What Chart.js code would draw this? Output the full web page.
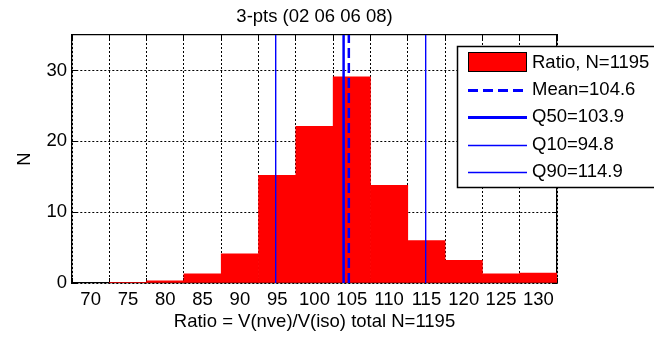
<!DOCTYPE html>
<html>
<head>
<meta charset="utf-8">
<script src="https://cdn.jsdelivr.net/npm/chart.js@4/dist/chart.umd.min.js"></script>
<style>
  html, body { margin: 0; padding: 0; background: #fff; }
  canvas { display: block; }
</style>
</head>
<body>
<canvas id="histCanv" width="654" height="338"></canvas>
<script>
/* data */
const binCenters = [75, 80, 85, 90, 95, 100, 105, 110, 115, 120, 125, 130]
const binCounts = [0.1, 0.3, 1.3, 4.1, 15.2, 22.1, 29.1, 13.8, 6.0, 3.2, 1.3, 1.4]
const statNames = ['Mean', 'Q50', 'Q10', 'Q90']
const statValues = [104.6, 103.9, 94.8, 114.9]
const xTicks = [70, 75, 80, 85, 90, 95, 100, 105, 110, 115, 120, 125, 130]
const yTicks = [0, 10, 20, 30]
const totalN = 1195
const titleText = '3-pts (02 06 06 08)'
const xLabel = 'Ratio = V(nve)/V(iso) total N=1195'
const yLabel = 'N'

const FONT = "'Liberation Sans', Arial, sans-serif"
const FSIZE = 18.5

/* the four vertical stat lines */
const statStyle = {
  Mean: { width: 2.5, dash: [10, 5] },
  Q50: { width: 2.5, dash: [] },
  Q10: { width: 1.4, dash: [] },
  Q90: { width: 1.4, dash: [] }
}
const statSets = statNames.map((name, i) => ({
  type: 'line',
  label: name + '=' + statValues[i].toFixed(1),
  data: [{ x: statValues[i], y: 0 }, { x: statValues[i], y: 35 }],
  borderColor: 'rgb(0, 0, 255)',
  borderWidth: statStyle[name].width,
  borderDash: statStyle[name].dash,
  pointRadius: 0,
  fill: false,
  order: 0
}))

/* matlab-like legend box sitting on the plot */
const boxLegend = {
  id: 'boxLegend',
  afterDraw(chart) {
    const ctx = chart.ctx
    ctx.save()
    ctx.fillStyle = '#fff'
    ctx.fillRect(457, 46, 220, 142)
    ctx.strokeStyle = '#000'
    ctx.lineWidth = 1.5
    ctx.strokeRect(457.5, 46.5, 220, 141)
    ctx.font = FSIZE + 'px ' + FONT
    ctx.textBaseline = 'middle'
    ctx.textAlign = 'left'
    chart.data.datasets.forEach((ds, i) => {
      const y = 63 + i * 27.2
      if (ds.type === 'line') {
        ctx.strokeStyle = ds.borderColor
        ctx.lineWidth = ds.borderWidth + (ds.borderWidth > 2 ? 0.5 : 0)
        ctx.setLineDash(ds.borderDash)
        ctx.beginPath()
        ctx.moveTo(468, Math.round(y) + 0.5)
        ctx.lineTo(527, Math.round(y) + 0.5)
        ctx.stroke()
        ctx.setLineDash([])
      } else {
        ctx.fillStyle = ds.backgroundColor
        ctx.fillRect(468, 52, 59, 20)
        ctx.strokeStyle = '#000'
        ctx.lineWidth = 1
        ctx.strokeRect(468.5, 52.5, 58, 19)
      }
      ctx.fillStyle = '#000'
      ctx.fillText(ds.label, 532, y)
    })
    ctx.restore()
  }
}

const ctxEl = document.getElementById('histCanv')
const histChart = new Chart(ctxEl, {
  type: 'bar',
  data: {
    datasets: [{
      type: 'bar',
      label: 'Ratio, N=' + totalN,
      data: binCenters.map((c, i) => ({ x: c, y: binCounts[i] })),
      backgroundColor: 'rgb(255, 0, 0)',
      borderWidth: 0,
      barPercentage: 1,
      categoryPercentage: 1,
      clip: 0,
      order: 5
    }].concat(statSets)
  },
  options: {
    responsive: false,
    animation: false,
    devicePixelRatio: 1,
    layout: { padding: { left: 0, right: 97, top: 0, bottom: 0 } },
    plugins: {
      legend: { display: false },
      tooltip: { enabled: false },
      title: {
        display: true,
        text: titleText,
        fullSize: false,
        color: '#000',
        font: { family: FONT, size: FSIZE, weight: 'normal' },
        padding: { top: 6, bottom: 6.8 }
      }
    },
    scales: {
      x: {
        type: 'linear',
        position: 'bottom',
        min: 70,
        max: 130,
        afterBuildTicks: s => { s.ticks = xTicks.map(v => ({ value: v })) },
        afterFit: s => { s.height = 55 },
        ticks: {
          autoSkip: false,
          maxRotation: 0,
          padding: 11,
          color: '#000',
          font: { family: FONT, size: FSIZE }
        },
        grid: {
          color: '#000',
          lineWidth: 1,
          drawTicks: true,
          tickLength: -5,
          tickColor: '#000',
          tickBorderDash: []
        },
        border: { display: true, color: '#000', width: 1.3, dash: [2, 2] },
        title: {
          display: true,
          text: xLabel,
          color: '#000',
          font: { family: FONT, size: FSIZE },
          padding: { top: 0, bottom: 5.4 }
        }
      },
      y: {
        type: 'linear',
        position: 'left',
        min: 0,
        max: 35,
        afterBuildTicks: s => { s.ticks = yTicks.map(v => ({ value: v })) },
        afterFit: s => { s.width = 72 },
        ticks: {
          padding: 10,
          color: '#000',
          font: { family: FONT, size: FSIZE }
        },
        grid: {
          color: '#000',
          lineWidth: 1,
          drawTicks: true,
          tickLength: -5,
          tickColor: '#000',
          tickBorderDash: []
        },
        border: { display: true, color: '#000', width: 1.3, dash: [2, 2] },
        title: {
          display: true,
          text: yLabel,
          color: '#000',
          font: { family: FONT, size: FSIZE },
          padding: { top: 13.6, bottom: 0 }
        }
      },
      x2: {
        type: 'linear',
        position: 'top',
        min: 70,
        max: 130,
        afterBuildTicks: s => { s.ticks = xTicks.map(v => ({ value: v })) },
        afterFit: s => { s.height = 0 },
        ticks: { display: false },
        grid: { drawOnChartArea: false, drawTicks: true, tickLength: -5, tickColor: '#000' },
        border: { display: true, color: '#000', width: 1.3 }
      },
      y2: {
        type: 'linear',
        position: 'right',
        min: 0,
        max: 35,
        afterBuildTicks: s => { s.ticks = yTicks.map(v => ({ value: v })) },
        afterFit: s => { s.width = 0 },
        ticks: { display: false },
        grid: { drawOnChartArea: false, drawTicks: true, tickLength: -5, tickColor: '#000' },
        border: { display: true, color: '#000', width: 1.3 }
      }
    }
  },
  plugins: [boxLegend]
})
</script>
</body>
</html>
